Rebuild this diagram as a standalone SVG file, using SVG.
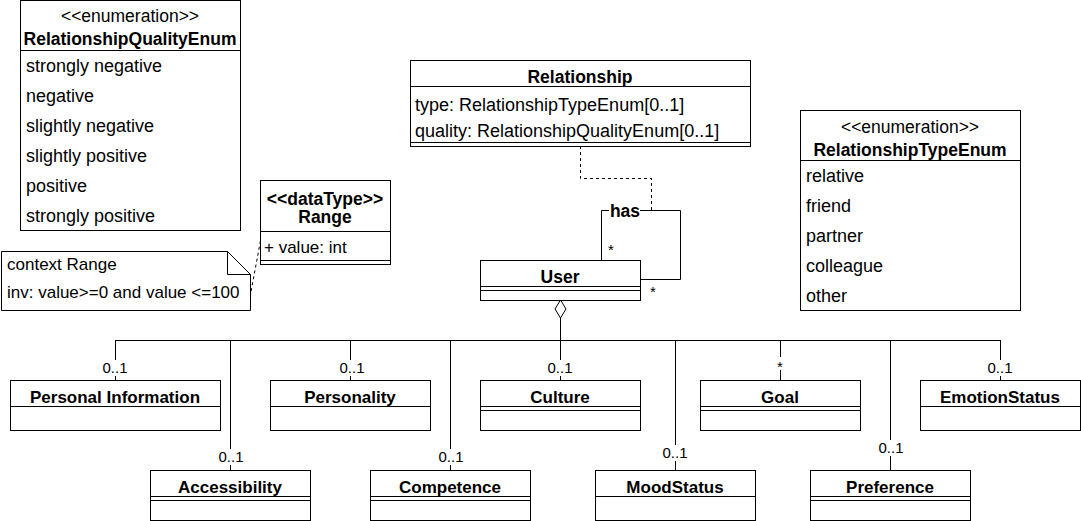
<svg xmlns="http://www.w3.org/2000/svg" width="1081" height="521" viewBox="0 0 1081 521">
<style>
.box{fill:#fff;stroke:#000;stroke-width:1}
.ln{fill:none;stroke:#000;stroke-width:1}
.dash{fill:none;stroke:#000;stroke-width:1;stroke-dasharray:3 3}
.t{font-family:"Liberation Sans",Arial,sans-serif;font-size:18px;fill:#000}
.n{font-size:17px}
.b{font-family:"Liberation Sans",Arial,sans-serif;font-size:17.5px;font-weight:bold;fill:#000;text-anchor:middle}
.s{font-size:17px}
.c{text-anchor:middle;font-size:17.5px}
.lbl{font-family:"Liberation Sans",Arial,sans-serif;font-size:15px;fill:#000;text-anchor:middle}
.bg{fill:#fff;stroke:none}
</style>
<rect width="1081" height="521" fill="#fff"/>
<g id="connectors">
  <path class="dash" d="M580.5,146 V178.5 H651.5 V210"/>
  <path class="ln" d="M601.5,260 V210.5 H680.5 V279.5 H640"/>
  <rect class="bg" x="609" y="202" width="31" height="18"/>
  <text class="b" x="625" y="217">has</text>
  <text class="lbl" x="611" y="255">*</text>
  <text class="lbl" x="653" y="297">*</text>
  <path class="dash" d="M250,297 L261,238"/>
  <path class="ln" d="M560.5,318 V380 M115.5,340.5 H1000.5 M115.5,340 V380 M230.5,340 V470 M350.5,340 V380 M450.5,340 V470 M675.5,340 V470 M780.5,340 V380 M890.5,340 V470 M1000.5,340 V380"/>
  <path d="M560.5,300 L566,309 L560.5,318 L555,309 Z" fill="#fff" stroke="#000" stroke-width="1"/>
  <rect class="bg" x="101" y="360" width="29" height="16"/>
  <text class="lbl" x="115" y="373">0..1</text>
  <rect class="bg" x="338" y="360" width="29" height="16"/>
  <text class="lbl" x="352" y="373">0..1</text>
  <rect class="bg" x="546" y="360" width="29" height="16"/>
  <text class="lbl" x="560" y="373">0..1</text>
  <rect class="bg" x="986" y="360" width="29" height="16"/>
  <text class="lbl" x="1000" y="373">0..1</text>
  <rect class="bg" x="773" y="357" width="15" height="13"/>
  <text class="lbl" x="780" y="372">*</text>
  <rect class="bg" x="217" y="449" width="29" height="16"/>
  <text class="lbl" x="231" y="462">0..1</text>
  <rect class="bg" x="437" y="449" width="29" height="16"/>
  <text class="lbl" x="451" y="462">0..1</text>
  <rect class="bg" x="661" y="445" width="29" height="16"/>
  <text class="lbl" x="675" y="458">0..1</text>
  <rect class="bg" x="877" y="440" width="29" height="16"/>
  <text class="lbl" x="891" y="453">0..1</text>
</g>
<g id="RelationshipQualityEnum">
  <rect class="box" x="20.5" y="0.5" width="220" height="230"/>
  <path class="ln" d="M20.5,50.5 H240.5"/>
  <text class="t c" x="130" y="22">&lt;&lt;enumeration&gt;&gt;</text>
  <text class="b" x="130" y="45">RelationshipQualityEnum</text>
  <text class="t" x="26" y="72">strongly negative</text>
  <text class="t" x="26" y="102">negative</text>
  <text class="t" x="26" y="132">slightly negative</text>
  <text class="t" x="26" y="162">slightly positive</text>
  <text class="t" x="26" y="192">positive</text>
  <text class="t" x="26" y="222">strongly positive</text>
</g>
<g id="Relationship">
  <rect class="box" x="410.5" y="60.5" width="340" height="86"/>
  <path class="ln" d="M410.5,86.5 H750.5 M410.5,142.5 H750.5"/>
  <text class="b" x="580" y="83">Relationship</text>
  <text class="t" x="415" y="111">type: RelationshipTypeEnum[0..1]</text>
  <text class="t" x="415" y="137">quality: RelationshipQualityEnum[0..1]</text>
</g>
<g id="RelationshipTypeEnum">
  <rect class="box" x="800.5" y="110.5" width="220" height="200"/>
  <path class="ln" d="M800.5,160.5 H1020.5"/>
  <text class="t c" x="910" y="133">&lt;&lt;enumeration&gt;&gt;</text>
  <text class="b" x="910" y="156">RelationshipTypeEnum</text>
  <text class="t" x="806" y="182">relative</text>
  <text class="t" x="806" y="212">friend</text>
  <text class="t" x="806" y="242">partner</text>
  <text class="t" x="806" y="272">colleague</text>
  <text class="t" x="806" y="302">other</text>
</g>
<g id="Range">
  <rect class="box" x="260.5" y="180.5" width="130" height="84"/>
  <path class="ln" d="M260.5,231.5 H390.5 M260.5,260.5 H390.5"/>
  <text class="b" x="325" y="205">&lt;&lt;dataType&gt;&gt;</text>
  <text class="b" x="325" y="223">Range</text>
  <text class="t n" x="264" y="253">+ value: int</text>
</g>
<g id="note">
  <path class="box" d="M1.5,251.5 H227.5 L250.5,274.5 V310.5 H1.5 Z"/>
  <path class="ln" d="M227.5,251.5 V274.5 H250.5"/>
  <text class="t n" x="7" y="270">context Range</text>
  <text class="t n" x="7" y="298">inv: value&gt;=0 and value &lt;=100</text>
</g>
<g id="User">
  <rect class="box" x="480.5" y="260.5" width="160" height="40"/>
  <path class="ln" d="M480.5,286.5 H640.5 M480.5,290.5 H640.5"/>
  <text class="b" x="560" y="283">User</text>
</g>
<g id="PersonalInformation">
  <rect class="box" x="10.5" y="380.5" width="210" height="50"/>
  <path class="ln" d="M10.5,406.5 H220.5"/>
  <text class="b s" x="115" y="403">Personal Information</text>
</g>
<g id="Personality">
  <rect class="box" x="270.5" y="380.5" width="160" height="50"/>
  <path class="ln" d="M270.5,406.5 H430.5"/>
  <text class="b s" x="350" y="403">Personality</text>
</g>
<g id="Culture">
  <rect class="box" x="480.5" y="380.5" width="160" height="50"/>
  <path class="ln" d="M480.5,406.5 H640.5 M480.5,410.5 H640.5"/>
  <text class="b s" x="560" y="403">Culture</text>
</g>
<g id="Goal">
  <rect class="box" x="700.5" y="380.5" width="160" height="50"/>
  <path class="ln" d="M700.5,406.5 H860.5 M700.5,410.5 H860.5"/>
  <text class="b s" x="780" y="403">Goal</text>
</g>
<g id="EmotionStatus">
  <rect class="box" x="920.5" y="380.5" width="160" height="50"/>
  <path class="ln" d="M920.5,406.5 H1080.5"/>
  <text class="b s" x="1000" y="403">EmotionStatus</text>
</g>
<g id="Accessibility">
  <rect class="box" x="150.5" y="470.5" width="160" height="50"/>
  <path class="ln" d="M150.5,496.5 H310.5 M150.5,500.5 H310.5"/>
  <text class="b s" x="230" y="493">Accessibility</text>
</g>
<g id="Competence">
  <rect class="box" x="370.5" y="470.5" width="160" height="50"/>
  <path class="ln" d="M370.5,496.5 H530.5 M370.5,500.5 H530.5"/>
  <text class="b s" x="450" y="493">Competence</text>
</g>
<g id="MoodStatus">
  <rect class="box" x="595.5" y="470.5" width="160" height="50"/>
  <path class="ln" d="M595.5,496.5 H755.5"/>
  <text class="b s" x="675" y="493">MoodStatus</text>
</g>
<g id="Preference">
  <rect class="box" x="810.5" y="470.5" width="160" height="50"/>
  <path class="ln" d="M810.5,496.5 H970.5 M810.5,500.5 H970.5"/>
  <text class="b s" x="890" y="493">Preference</text>
</g>
</svg>
